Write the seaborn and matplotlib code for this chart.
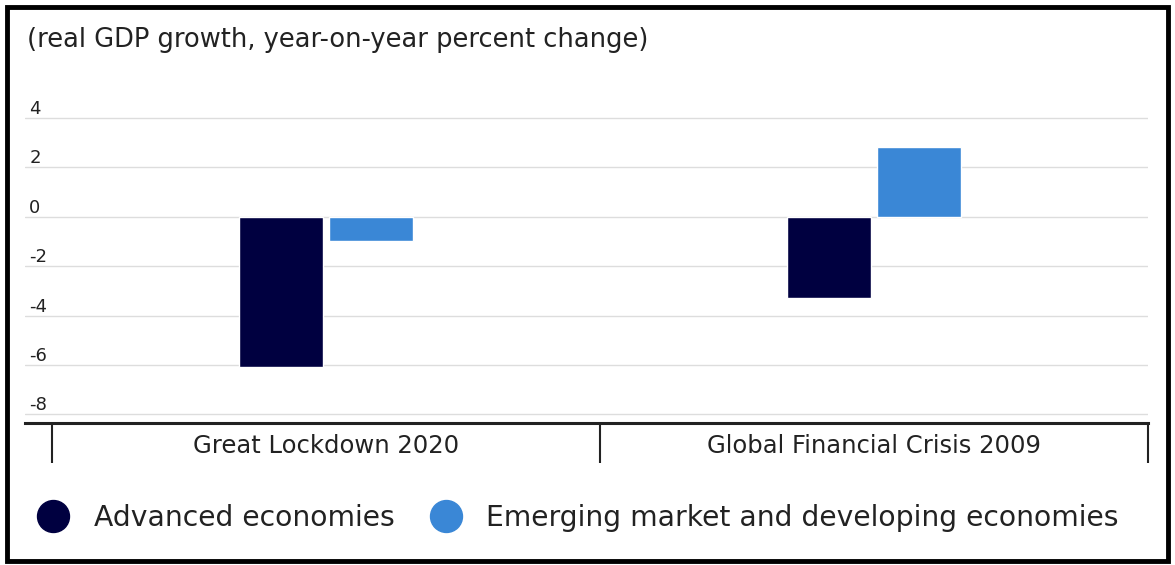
import matplotlib
matplotlib.use("Agg")
import matplotlib.pyplot as plt
import matplotlib.patches as mpatches
from matplotlib.lines import Line2D
import seaborn as sns
import pandas as pd

# ---- data ----
categories = ["Great Lockdown 2020", "Global Financial Crisis 2009"]
series_names = ["Advanced economies", "Emerging market and developing economies"]
advanced = [-6.1, -3.3]
emerging = [-1.0, 2.8]
yticks = [4, 2, 0, -2, -4, -6, -8]
title_text = "(real GDP growth, year-on-year percent change)"
colors = ["#000040", "#3A87D6"]

df = pd.DataFrame({
    "category": categories * 2,
    "series": [series_names[0]] * 2 + [series_names[1]] * 2,
    "value": advanced + emerging,
})

sns.set_theme(style="white")
plt.rcParams["font.family"] = ["DejaVu Sans"]
plt.rcParams["axes.unicode_minus"] = False

W, H = 1175, 565
fig = plt.figure(figsize=(W / 100, H / 100), dpi=100)
ax = fig.add_axes([25 / W, 142 / H, (1148 - 25) / W, (423 - 103) / H])

sns.barplot(data=df, x="category", y="value", hue="series", order=categories,
            hue_order=series_names, palette=colors, width=0.33, gap=0.07,
            saturation=1, ax=ax, legend=False, zorder=3)

ax.set_xlim(-0.549, 1.5)
ax.set_ylim(-8.35, 4.6)
ax.set_xlabel("")
ax.set_ylabel("")

# grid
ax.set_yticks(yticks)
ax.yaxis.grid(True, color="#DDDDDD", linewidth=1.0, zorder=0)
ax.set_axisbelow(True)
ax.tick_params(axis="y", length=0, pad=-3, labelsize=13, labelcolor="#222222")
for lab in ax.get_yticklabels():
    lab.set_horizontalalignment("left")
    lab.set_verticalalignment("bottom")

# spines
for s in ["left", "right", "top"]:
    ax.spines[s].set_visible(False)
ax.spines["bottom"].set_color("#222222")
ax.spines["bottom"].set_linewidth(2.2)

# category ticks
ax.set_xticks([0, 1])
ax.set_xticklabels(categories)
ax.tick_params(axis="x", which="major", bottom=True, length=0, pad=8,
               labelsize=17.5, labelcolor="#222222")
ax.set_xticks([-0.5, 0.5, 1.5], minor=True)
ax.tick_params(axis="x", which="minor", bottom=True, length=29, width=1.5,
               color="#222222", direction="out")

# title
fig.text(27 / W, 1 - 40 / H, title_text, ha="left", va="center", fontsize=18.5, color="#222222")

# legend
handles = [Line2D([0], [0], marker="o", linestyle="", markersize=23,
                  markerfacecolor=c, markeredgecolor=c) for c in colors]
fig.legend(handles, series_names, loc="center left", bbox_to_anchor=(25 / W, 1 - 518 / H),
           ncol=2, frameon=False, fontsize=20.3, handletextpad=0.45, columnspacing=0.8,
           labelcolor="#222222", borderaxespad=0, borderpad=0)

# outer frame
fig.patches.append(mpatches.Rectangle((7 / W, 4 / H), (1168 - 7) / W, (558 - 4) / H,
                                      transform=fig.transFigure, fill=False,
                                      edgecolor="black", linewidth=3.5))

fig.savefig("out.png", dpi=100)
